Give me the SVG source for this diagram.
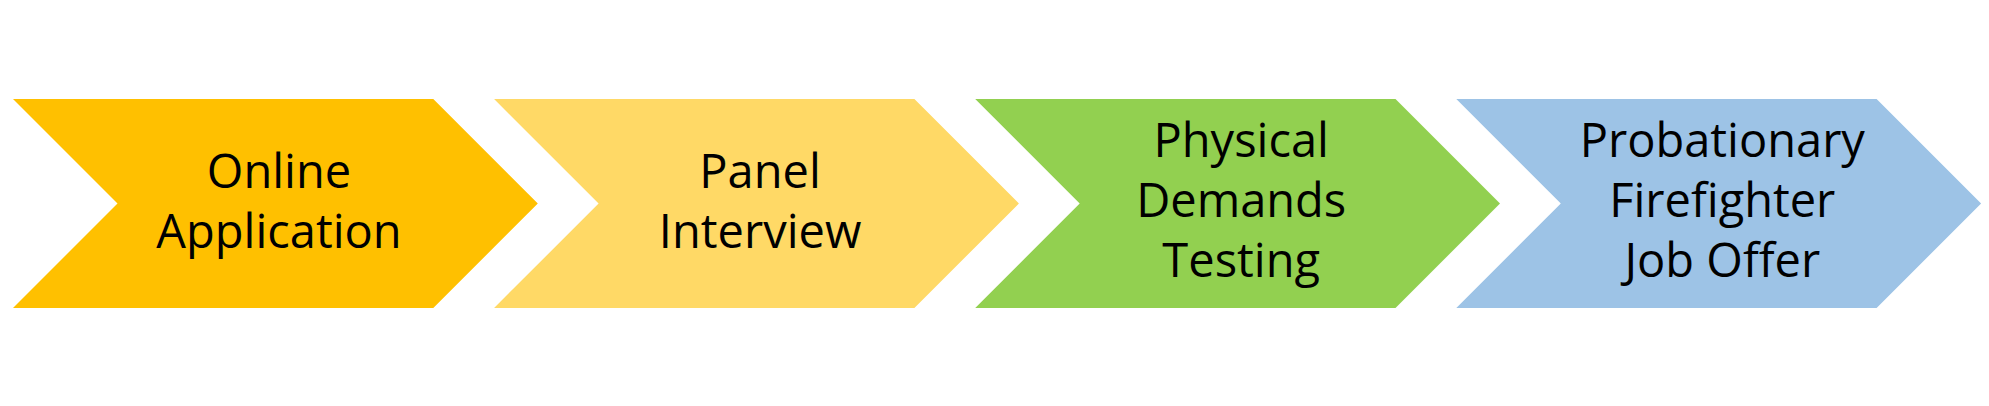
<svg xmlns="http://www.w3.org/2000/svg" width="1989" height="406" viewBox="0 0 1989 406">
  <style>
    .lbl { font-family: "Open Sans", "Noto Sans", "Liberation Sans", sans-serif; font-size: 47px; fill: #000000; text-anchor: middle; }
  </style>
  <defs>
    <path id="chev" d="M0,99 L420.3,99 L524.8,203.5 L420.3,308 L0,308 L104.5,203.5 Z"/>
  </defs>
  <rect width="1989" height="406" fill="#FFFFFF"/>
  <g id="connectors"></g>
  <g id="node-online-application" transform="translate(13,0)">
    <use href="#chev" fill="#FFC000"/>
    <text class="lbl" x="266" y="188">Online</text>
    <text class="lbl" x="266" y="247.5">Application</text>
  </g>
  <g id="node-panel-interview" transform="translate(494.1,0)">
    <use href="#chev" fill="#FFD966"/>
    <text class="lbl" x="266" y="188">Panel</text>
    <text class="lbl" x="266" y="247.5">Interview</text>
  </g>
  <g id="node-physical-demands-testing" transform="translate(975.2,0)">
    <use href="#chev" fill="#92D050"/>
    <text class="lbl" x="266" y="157.3">Physical</text>
    <text class="lbl" x="266" y="217.3">Demands</text>
    <text class="lbl" x="266" y="277">Testing</text>
  </g>
  <g id="node-probationary-firefighter-job-offer" transform="translate(1456.3,0)">
    <use href="#chev" fill="#9DC3E6"/>
    <text class="lbl" x="266" y="157.3">Probationary</text>
    <text class="lbl" x="266" y="217.3">Firefighter</text>
    <text class="lbl" x="266" y="277">Job Offer</text>
  </g>
</svg>
